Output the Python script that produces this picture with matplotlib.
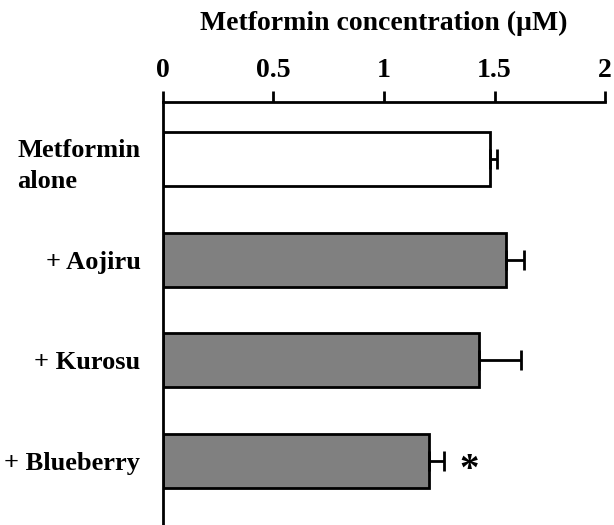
import matplotlib.pyplot as plt

groups = ["Metformin\nalone", "+ Aojiru", "+ Kurosu", "+ Blueberry"]
conc = [1.48, 1.552, 1.431, 1.204]
sem = [0.03, 0.08, 0.19, 0.066]
colors = ["white", "#808080", "#808080", "#808080"]

plt.rcParams["font.family"] = ["Liberation Serif", "DejaVu Serif"]
plt.rcParams["font.weight"] = "bold"

fig = plt.figure(figsize=(6.14, 5.25), dpi=100)
ax = fig.add_axes([0.265, 0.0, 0.7205, 0.8057])

ypos = list(range(len(groups)))
ax.barh(ypos, conc, height=0.54, color=colors, edgecolor="black", linewidth=2)
ax.errorbar(conc, ypos, xerr=[[0] * len(sem), sem], fmt="none", ecolor="black",
            elinewidth=2, capsize=7, capthick=2)

# significance mark
ax.text(conc[3] + sem[3] + 0.115, 3.1, "*", fontsize=28, ha="center", va="center")

ax.set_xlim(0, 2)
ax.set_ylim(3.64, -0.57)
ax.set_xticks([0, 0.5, 1, 1.5, 2])
ax.set_xticklabels(["0", "0.5", "1", "1.5", "2"])
ax.xaxis.tick_top()
ax.xaxis.set_label_position("top")
ax.set_xlabel("Metformin concentration (\u00b5M)", fontsize=20, fontweight="bold", labelpad=20)
ax.set_yticks(ypos)
ax.set_yticklabels(groups)
ax.tick_params(axis="x", direction="out", length=8, width=2, labelsize=20, pad=6)
ax.tick_params(axis="y", length=0, labelsize=19, pad=16)
lbl = ax.get_yticklabels()[0]
lbl.set_multialignment("left")
lbl.set_linespacing(1.45)

for s in ["right", "bottom"]:
    ax.spines[s].set_visible(False)
for s in ["top", "left"]:
    ax.spines[s].set_linewidth(2)

fig.savefig("out.png", dpi=100)
